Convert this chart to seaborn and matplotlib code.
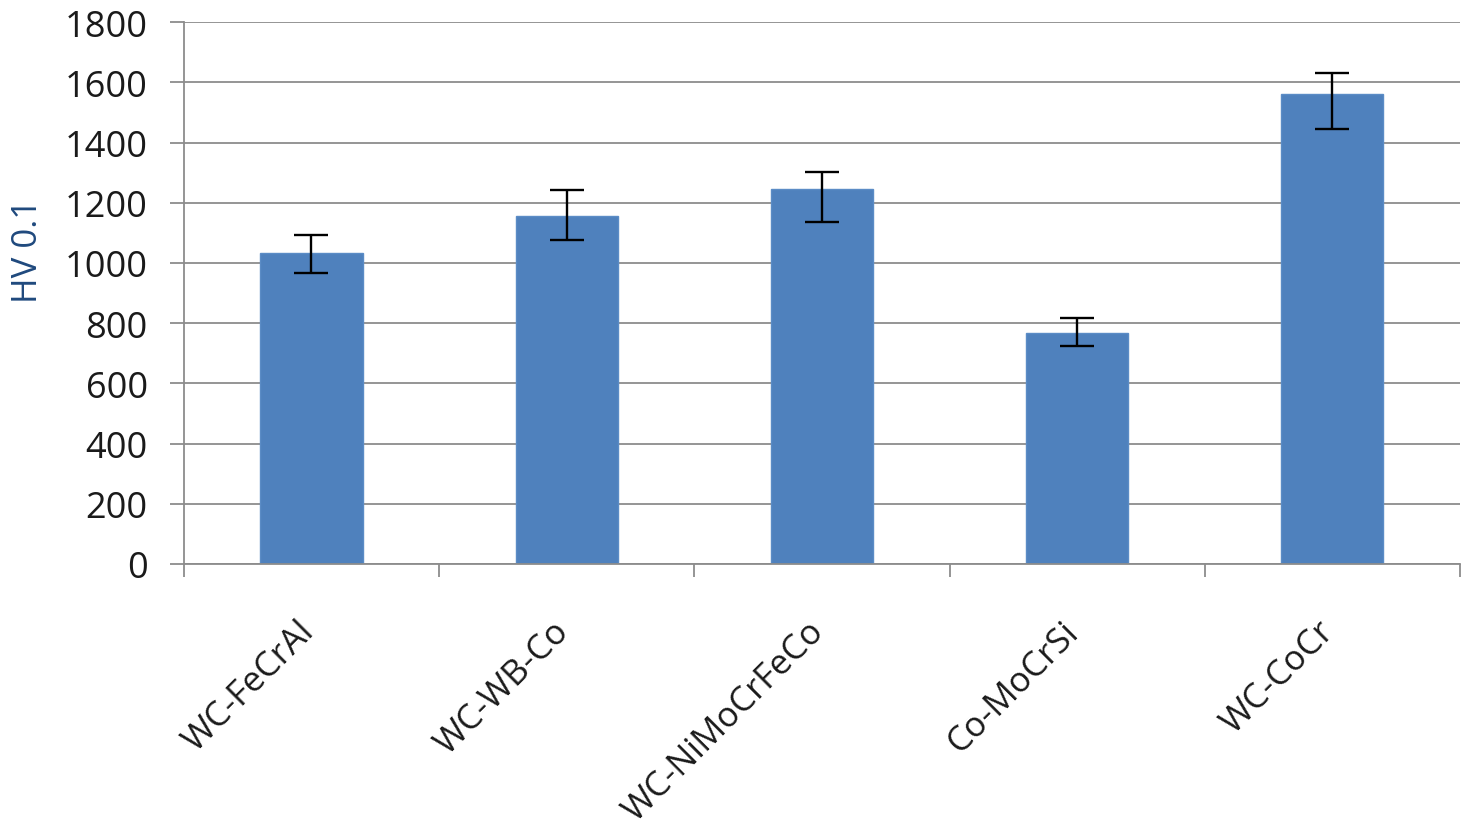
import matplotlib
matplotlib.use("Agg")
import matplotlib.pyplot as plt
import matplotlib.transforms as mtransforms
import seaborn as sns
import pandas as pd
import numpy as np

categories = ["WC-FeCrAl", "WC-WB-Co", "WC-NiMoCrFeCo", "Co-MoCrSi", "WC-CoCr"]
hardness = [1033, 1155, 1246, 767, 1561]
err_lower = [67, 79, 110, 42, 117]
err_upper = [61, 89, 56, 49, 71]
y_ticks = [0, 200, 400, 600, 800, 1000, 1200, 1400, 1600, 1800]

sns.set_theme(style="white")
plt.rcParams["font.family"] = ["Open Sans", "DejaVu Sans"]

df = pd.DataFrame({"cat": categories, "hv": hardness})

fig = plt.figure(figsize=(14.71, 8.29), dpi=100)
ax = fig.add_axes([0.125, 0.3185, 0.8675, 0.6535])

sns.barplot(data=df, x="cat", y="hv", color="#4F81BD", saturation=1,
            width=0.4, ax=ax, zorder=2, edgecolor="#5B8CC6", linewidth=1)
x = np.arange(len(categories))
ax.errorbar(x, hardness, yerr=[err_lower, err_upper], fmt="none",
            ecolor="black", elinewidth=1.7, capsize=12, capthick=1.7, zorder=3)

ax.set_xlim(-0.5, len(categories) - 0.5)
ax.set_ylim(0, 1800)
ax.set_yticks(y_ticks)
ax.yaxis.grid(True, color="#8C8C8C", linewidth=1.3, zorder=0)
ax.set_axisbelow(True)

for s in ["top", "right"]:
    ax.spines[s].set_visible(False)
for s in ["left", "bottom"]:
    ax.spines[s].set_color("#8C8C8C")
    ax.spines[s].set_linewidth(1.3)

ax.tick_params(axis="y", which="major", direction="out", length=10, width=1.3,
               color="#8C8C8C", labelsize=26, pad=16, left=True)
ax.set_yticklabels([str(v) for v in y_ticks], color="#1a1a1a")

ax.set_xticks(x)
ax.set_xticklabels(categories, rotation=45, ha="right", rotation_mode="anchor",
                   fontsize=25, color="#1a1a1a")
ax.tick_params(axis="x", which="major", length=0, pad=36)
shift = mtransforms.ScaledTranslation(-0.15, 0.0, fig.dpi_scale_trans)
for lbl in ax.get_xticklabels():
    lbl.set_transform(lbl.get_transform() + shift)
ax.set_xticks(np.arange(-0.5, len(categories)), minor=True)
ax.tick_params(axis="x", which="minor", direction="out", length=9, width=1.3,
               color="#8C8C8C", bottom=True)

ax.set_xlabel("")
ax.set_ylabel("HV 0.1", fontsize=25, color="#1F497D")
ax.yaxis.set_label_coords(-0.109, 0.58)

fig.savefig("out.png", dpi=100)
